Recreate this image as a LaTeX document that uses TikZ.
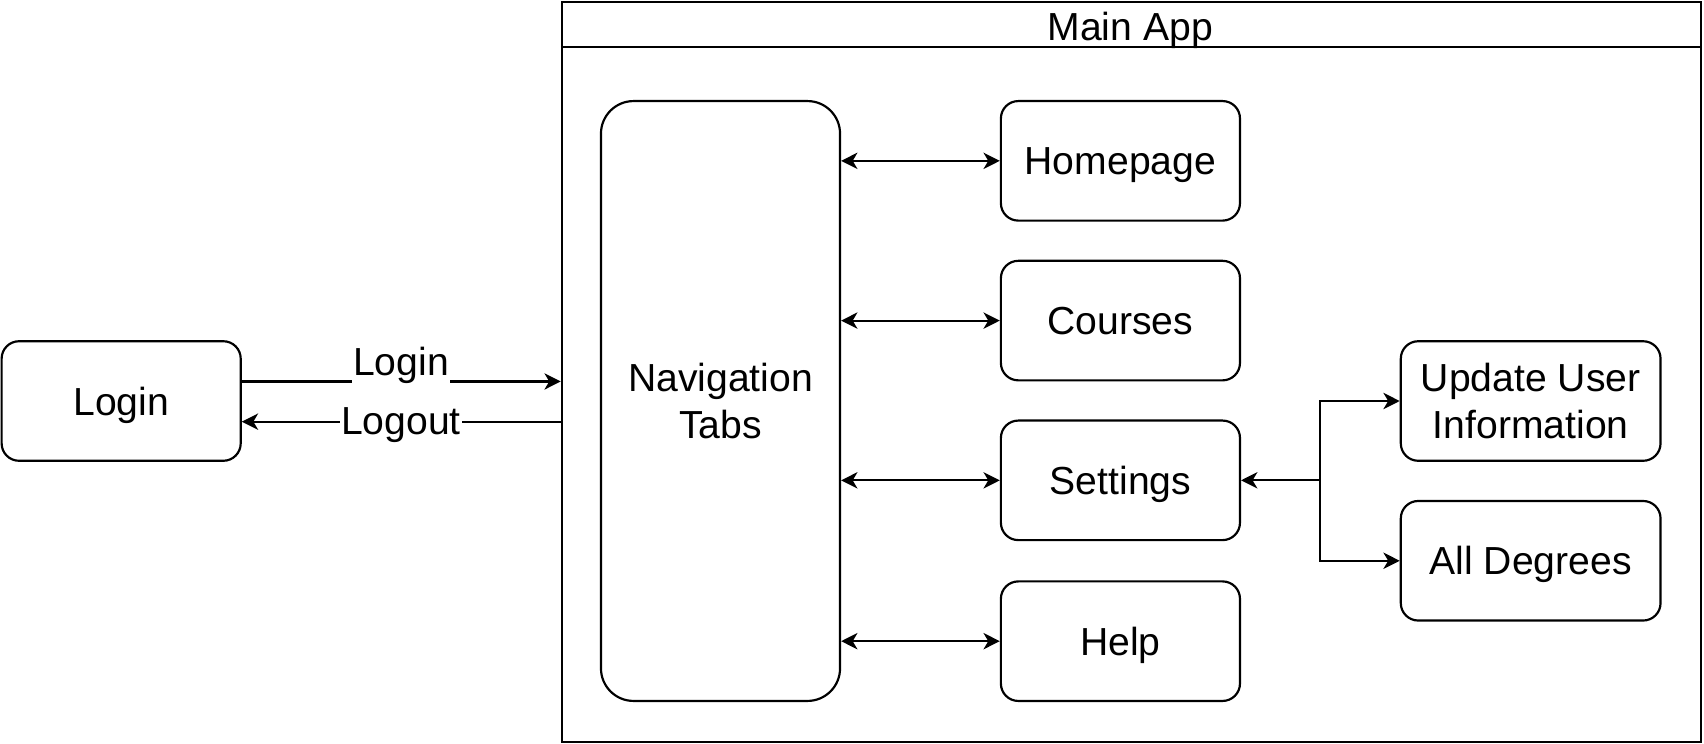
\documentclass[tikz,border=0pt]{standalone}
\usepackage{fontspec}
\setmainfont{Liberation Sans}
\usetikzlibrary{arrows.meta}
\begin{document}
\begin{tikzpicture}[x=0.5pt,y=-0.5pt,
  box/.style={draw,line width=1pt,rounded corners=8pt,minimum width=110pt,minimum height=55pt,align=center,font=\fontsize{18}{21.5}\selectfont,inner sep=0pt,text depth=0pt},
  tip/.tip={Stealth[length=7.5pt,width=7.5pt,inset=2.2pt]},
  conn/.style={line width=1pt,-tip},
  both/.style={line width=1pt,tip-tip},
  lbl/.style={fill=white,inner sep=0.5pt,font=\fontsize{18}{21.5}\selectfont}]
\useasboundingbox (0,0) rectangle (1568,684.6);
% container
\node[draw,line width=1pt,minimum width=524pt,minimum height=340.5pt,inner sep=0pt,anchor=north west] (app) at (516,1) {};
\draw[line width=1pt] (516,43) -- (1564,43);
\node[font=\fontsize{18}{21.5}\selectfont,text depth=0pt] (apptitle) at (1040,24) {Main App};
% nodes
\node[box] (login) at (111.5,369) {Login};
\node[box,minimum height=276pt,rounded corners=15pt] (nav) at (663,369) {Navigation\\Tabs};
\node[box] (home) at (1031,148) {Homepage};
\node[box] (courses) at (1031,295) {Courses};
\node[box] (settings) at (1031,442) {Settings};
\node[box] (help) at (1031,590) {Help};
\node[box,minimum width=119.5pt] (update) at (1408.5,369) {Update User\\Information};
\node[box,minimum width=119.5pt] (degrees) at (1408.5,516) {All Degrees};
% login/logout
\coordinate (appin) at (516,351);
\coordinate (appout) at (516,388);
\draw[conn] (login.east |- appin) -- (appin);
\draw[conn] (appout) -- (login.east |- appout);
\node[lbl] (lloginlbl) at (369,336) {Login};
\node[lbl] (llogoutlbl) at (369,391) {Logout};
% nav arrows
\draw[both] (nav.east |- home) -- (home.west);
\draw[both] (nav.east |- courses) -- (courses.west);
\draw[both] (nav.east |- settings) -- (settings.west);
\draw[both] (nav.east |- help) -- (help.west);
% settings branches
\coordinate (split) at (1215,442);
\draw[conn] (split) -- (settings.east);
\draw[conn] (split) |- (update.west);
\draw[conn] (split) |- (degrees.west);
\end{tikzpicture}
\end{document}
